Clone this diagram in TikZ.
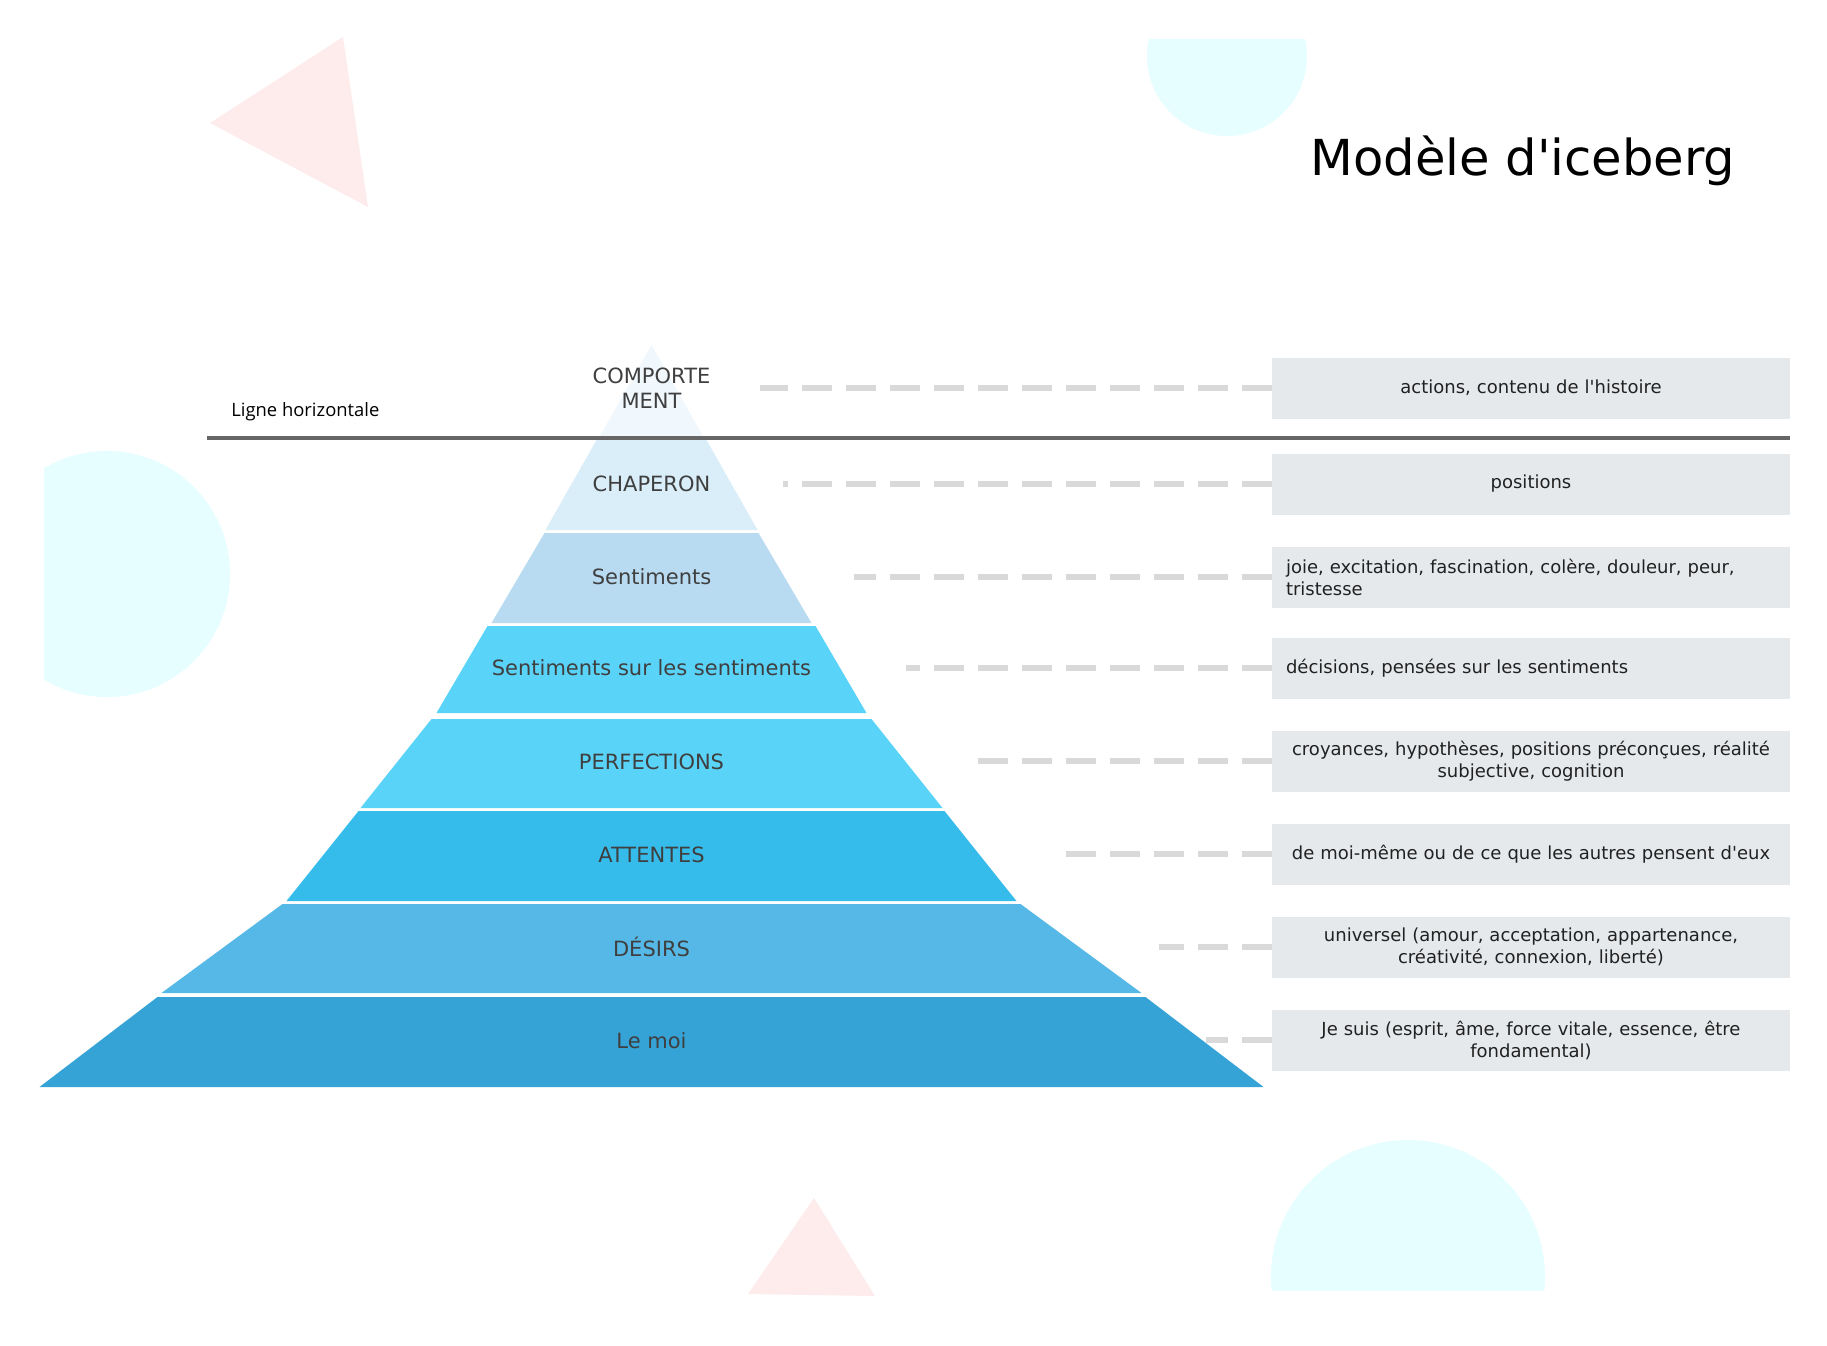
\documentclass[tikz,border=0pt]{standalone}
\usepackage{fontspec}
\setmainfont{DejaVu Sans}[Ligatures=TeXOff]
\newfontfamily\lignefont{Open Sans}[Ligatures=TeXOff]
\definecolor{couche1}{HTML}{F0F8FD}
\definecolor{couche2}{HTML}{D9EEF9}
\definecolor{couche3}{HTML}{B8DBF2}
\definecolor{couche4}{HTML}{5AD3F8}
\definecolor{couche6}{HTML}{35BCEA}
\definecolor{couche7}{HTML}{56B8E6}
\definecolor{couche8}{HTML}{35A3D6}
\definecolor{textecouche}{HTML}{3F3F3F}
\definecolor{fondnote}{HTML}{E6E9EC}
\definecolor{gristrait}{HTML}{D9D9D9}
\definecolor{grisligne}{HTML}{666666}
\definecolor{rosedeco}{HTML}{FEECEC}
\definecolor{cyandeco}{HTML}{E6FEFF}
\tikzset{
  layer/.style = {text=textecouche, font=\fontsize{10.5}{12.8}\selectfont, align=center},
  note/.style = {fill=fondnote, minimum width=259pt, minimum height=30.5pt,
    text width=245pt, inner sep=0pt, align=center, text=black!87,
    font=\fontsize{9}{11}\selectfont},
  noteleft/.style = {note, align=left},
  link/.style = {draw=gristrait, line width=2.6pt, dash pattern=on 15pt off 7pt},
  hline/.style = {draw=grisligne, line width=2pt}
}

\begin{document}
\begin{tikzpicture}[x=0.5pt,y=-0.5pt]
  \fill[white] (0,0) rectangle (1827,1345);
  \useasboundingbox (0,0) rectangle (1827,1345);

  \fill[rosedeco] (210,123) -- (343,37) -- (368,207) -- cycle;
  \fill[rosedeco] (814,1198) -- (748,1294) -- (875,1296) -- cycle;
  \begin{scope}
    \clip (0,39) rectangle (1827,1345);
    \fill[cyandeco] (1227,56) circle[radius=80];
  \end{scope}
  \begin{scope}
    \clip (44,0) rectangle (1827,1345);
    \fill[cyandeco] (107,574) circle[radius=123];
  \end{scope}
  \begin{scope}
    \clip (0,0) rectangle (1827,1290);
    \fill[cyandeco] (1408,1277) circle[radius=137];
  \end{scope}

  \fill[couche1] (651.5,345) -- (703.5,437) -- (599.5,437) -- cycle;
  \fill[couche2] (596.5,440) -- (706.5,440) -- (757.5,530) -- (545.5,530) -- cycle;
  \fill[couche3] (544.5,533) -- (758.5,533) -- (811.5,623) -- (491.5,623) -- cycle;
  \fill[couche4] (487.5,626) -- (815.5,626) -- (866.5,713) -- (436.5,713) -- cycle;
  \fill[couche4] (431.5,719) -- (871.5,719) -- (942.5,808) -- (360.5,808) -- cycle;
  \fill[couche6] (358.5,811) -- (944.5,811) -- (1016.5,901) -- (286.5,901) -- cycle;
  \fill[couche7] (282.5,904) -- (1020.5,904) -- (1141.5,993) -- (161.5,993) -- cycle;
  \fill[couche8] (157.5,997) -- (1145.5,997) -- (1263.5,1087) -- (39.5,1087) -- cycle;

  \draw[hline] (207,438) -- (1790,438);

  \node[font=\fontsize{24.8}{28}\selectfont, inner sep=0pt, anchor=base west] (titre) at (1310,175) {Modèle d'iceberg};
  \node[font=\lignefont\fontsize{9.2}{10}\selectfont, inner sep=0pt, anchor=base west] (ligne) at (231,416) {Ligne horizontale};

  \node[layer] (comportement) at (651.5,388) {COMPORTE\\MENT};
  \node[layer] (chaperon) at (651.5,484) {CHAPERON};
  \node[layer] (sentiments) at (651.5,577) {Sentiments};
  \node[layer] (surSentiments) at (651.5,668) {Sentiments sur les sentiments};
  \node[layer] (perfections) at (651.5,762) {PERFECTIONS};
  \node[layer] (attentes) at (651.5,855) {ATTENTES};
  \node[layer] (desirs) at (651.5,947) {DÉSIRS};
  \node[layer] (moi) at (651.5,1041) {Le moi};

  \node[note] (actions) at (1531,388) {actions, contenu de l'histoire};
  \node[note] (positions) at (1531,484) {positions};
  \node[noteleft] (emotions) at (1531,577) {joie, excitation, fascination, colère, douleur, peur,\\tristesse};
  \node[noteleft] (decisions) at (1531,668) {décisions, pensées sur les sentiments};
  \node[note] (croyances) at (1531,761) {croyances, hypothèses, positions préconçues, réalité\\subjective, cognition};
  \node[note] (regards) at (1531,854) {de moi-même ou de ce que les autres pensent d'eux};
  \node[note] (universel) at (1531,947) {universel (amour, acceptation, appartenance,\\créativité, connexion, liberté)};
  \node[note] (jesuis) at (1531,1040) {Je suis (esprit, âme, force vitale, essence, être\\fondamental)};

  \coordinate (bout1) at (760,388);
  \coordinate (bout2) at (783,484);
  \coordinate (bout3) at (854,577);
  \coordinate (bout4) at (906,668);
  \coordinate (bout5) at (976,761);
  \coordinate (bout6) at (1054,854);
  \coordinate (bout7) at (1159,947);
  \coordinate (bout8) at (1206,1040);

  \draw[link]
    (actions.west) -- (bout1)
    (positions.west) -- (bout2)
    (emotions.west) -- (bout3)
    (decisions.west) -- (bout4)
    (croyances.west) -- (bout5)
    (regards.west) -- (bout6)
    (universel.west) -- (bout7)
    (jesuis.west) -- (bout8);
\end{tikzpicture}
\end{document}
